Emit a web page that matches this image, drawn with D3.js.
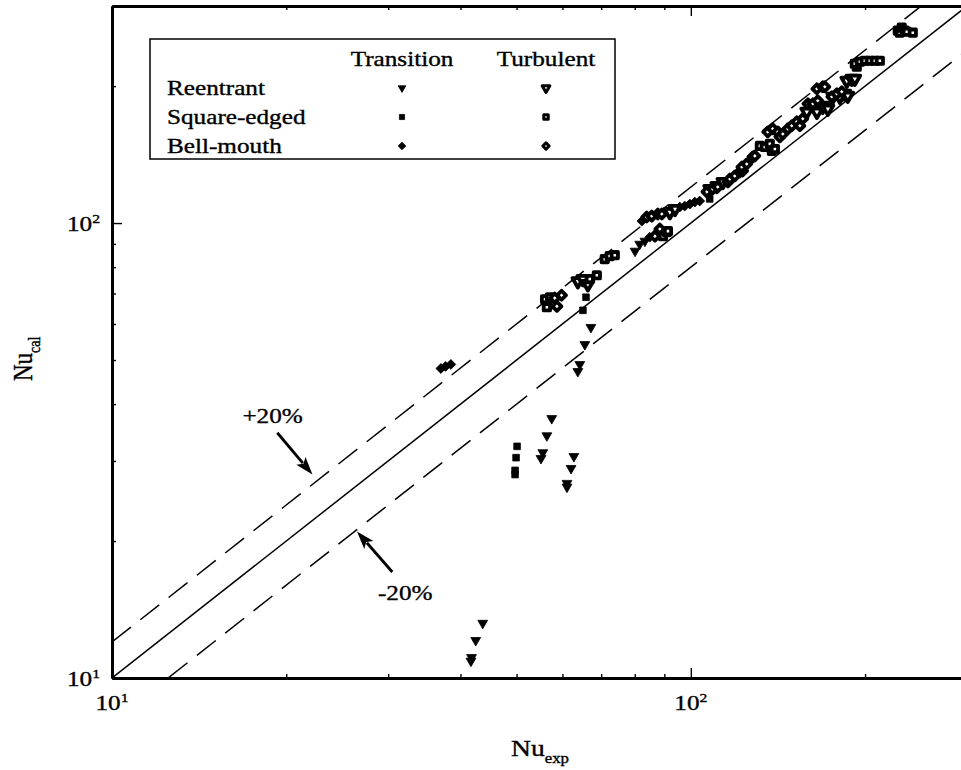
<!DOCTYPE html>
<html>
<head>
<meta charset="utf-8">
<script src="https://cdn.jsdelivr.net/npm/d3@7"></script>
<style>
  body { margin: 0; background: #fff; }
  svg { display: block; }
  text { font-family: "Liberation Serif", "Times New Roman", serif; fill: #000; stroke: #000; stroke-width: 0.35px; }
</style>
</head>
<body>
<svg id="chart" width="961" height="770"></svg>
<script>
// ---- Nusselt numbers: calculated vs experimental, by inlet type and flow regime ----
const reentrantTransX = [41.7, 41.8, 42.5, 43.7, 55.1, 55.5, 56.4, 57.5, 61.1, 61.1, 62.1, 62.8, 63.8, 64.3, 65.6, 67.2, 80.1, 81.6, 83.3];
const reentrantTransY = [10.9, 11.1, 12.1, 13.2, 30.4, 31.3, 34.1, 37.2, 26.3, 26.8, 28.9, 30.7, 47.2, 48.9, 54.1, 59.0, 86.8, 89.9, 91.3];

const squareTransX = [49.7, 49.7, 49.9, 50.1, 65.1, 65.9, 107.8];
const squareTransY = [28.0, 28.6, 30.5, 32.3, 64.3, 68.7, 113.0];

const bellTransX = [37.0, 37.7, 38.5, 84.9, 82.3, 95.7, 97.6, 99.6, 101.6, 103.6];
const bellTransY = [47.9, 48.4, 48.9, 93.1, 101.0, 108.4, 109.0, 110.1, 111.2, 111.8];

const reentrantTurbX = [63.8, 65.1, 66.4, 92.0, 93.9, 107.8, 110.9, 113.6, 158.6, 165.1, 169.0, 171.8, 172.5, 175.9, 180.9, 184.5, 186.7, 186.0, 189.7, 192.0];
const reentrantTurbY = [74.5, 75.3, 73.4, 105.7, 107.4, 118.8, 120.6, 123.1, 175.6, 175.6, 180.1, 181.0, 178.3, 189.5, 189.5, 192.4, 190.5, 205.5, 207.6, 207.6];

const squareTurbX = [56.0, 56.4, 57.1, 58.0, 66.9, 68.8, 71.0, 72.4, 73.9, 89.5, 90.9, 91.3, 131.6, 134.2, 136.9, 138.0, 139.7, 193.5, 192.0, 195.9, 199.8, 203.8, 207.9, 212.1, 227.8, 229.6, 231.4, 234.2, 236.1, 241.8];
const squareTurbY = [68.0, 65.3, 68.7, 66.3, 75.3, 76.8, 83.3, 84.6, 85.0, 93.6, 95.5, 96.0, 147.8, 147.0, 149.3, 144.1, 145.5, 220.6, 224.0, 226.2, 227.4, 227.4, 227.4, 227.4, 264.8, 262.1, 268.9, 264.8, 263.4, 262.1];

const bellTurbX = [58.2, 58.7, 59.8, 83.9, 85.6, 86.7, 87.7, 88.4, 89.1, 106.6, 109.1, 111.3, 115.9, 116.8, 119.1, 121.5, 122.9, 122.5, 124.9, 128.0, 129.0, 135.8, 138.5, 141.3, 142.5, 144.2, 147.1, 149.4, 152.4, 154.3, 156.1, 159.3, 162.5, 165.7, 165.1, 169.0, 170.4, 175.2, 178.7, 182.3];
const bellTurbY = [68.4, 65.6, 69.4, 103.1, 103.6, 93.6, 104.7, 97.0, 104.7, 117.1, 118.8, 120.0, 123.1, 125.0, 126.9, 129.5, 130.2, 132.8, 134.9, 139.8, 140.5, 158.6, 161.1, 158.6, 154.7, 157.0, 161.1, 163.6, 166.9, 163.6, 169.5, 182.9, 182.9, 185.7, 197.3, 199.3, 199.3, 189.5, 192.4, 194.4];

// axis ticks
const xMajor = [10, 100];
const yMajor = [10, 100];
const tickExponents = ["1", "2"];
const xMinor = [20, 30, 40, 50, 60, 70, 80, 90, 200];
const yMinor = [20, 30, 40, 50, 60, 70, 80, 90, 200];

// legend text
const legendRows = ["Reentrant", "Square-edged", "Bell-mouth"];
const legendCols = ["Transition", "Turbulent"];

// deviation band: +20% / -20%
const bandFactors = [1.2, 0.8];
const bandLabels = ["+20%", "-20%"];

// ---------------------------------------------------------------
const svg = d3.select("#chart");
const STRETCH = 1.2;   // the printed type is slightly wide
const FONT = 21;

const x = d3.scaleLog().domain([10, 300]).range([112, 967]);
const y = d3.scaleLog().domain([10, 300]).range([678, 6]);
const [x0, x1] = x.range();
const [y0, y1] = y.range();

svg.append("defs").append("clipPath").attr("id", "plotclip")
  .append("rect").attr("x", x0).attr("y", y1).attr("width", x1 - x0).attr("height", y0 - y1);

function styleAxis(g, width) {
  g.select(".domain").attr("stroke", "#000").attr("stroke-width", width);
  g.selectAll(".tick line").attr("stroke", "#000").attr("stroke-width", 1.4);
  g.selectAll(".tick text").remove();
}

// bottom axis
svg.append("g").attr("transform", `translate(0,${y0})`)
  .call(d3.axisBottom(x).tickValues(xMajor).tickSize(-10).tickSizeOuter(0))
  .call(g => styleAxis(g, 2.8));
svg.append("g").attr("transform", `translate(0,${y0})`)
  .call(d3.axisBottom(x).tickValues(xMinor).tickSize(-4).tickSizeOuter(0))
  .call(g => styleAxis(g, 2.8));
// top axis
svg.append("g").attr("transform", `translate(0,${y1})`)
  .call(d3.axisTop(x).tickValues(xMajor).tickSize(-10).tickSizeOuter(0))
  .call(g => styleAxis(g, 2.8));
svg.append("g").attr("transform", `translate(0,${y1})`)
  .call(d3.axisTop(x).tickValues(xMinor).tickSize(-4).tickSizeOuter(0))
  .call(g => styleAxis(g, 2.8));
// left axis
svg.append("g").attr("transform", `translate(${x0},0)`)
  .call(d3.axisLeft(y).tickValues(yMajor).tickSize(-10).tickSizeOuter(0))
  .call(g => styleAxis(g, 2.8));
svg.append("g").attr("transform", `translate(${x0},0)`)
  .call(d3.axisLeft(y).tickValues(yMinor).tickSize(-4).tickSizeOuter(0))
  .call(g => styleAxis(g, 2.8));

// power-of-ten tick labels
function powerLabel(px, py, anchor, exp) {
  const t = svg.append("text")
    .attr("transform", `translate(${px},${py}) scale(${STRETCH},1)`)
    .attr("text-anchor", anchor)
    .attr("font-size", FONT);
  t.append("tspan").text("10");
  t.append("tspan").attr("font-size", 13).attr("dy", -8).text(exp);
}
xMajor.forEach((v, i) => powerLabel(x(v), y0 + 32, "middle", tickExponents[i]));
yMajor.forEach((v, i) => powerLabel(x0 - 12, y(v) + 8, "end", tickExponents[i]));

// axis titles
const xt = svg.append("text")
  .attr("transform", `translate(511,756) scale(${STRETCH},1)`)
  .attr("font-size", 23);
xt.append("tspan").text("Nu");
xt.append("tspan").attr("font-size", 14).attr("dy", 7).text("exp");

const yt = svg.append("text")
  .attr("transform", `translate(32,381) scale(${STRETCH},1) rotate(-90)`)
  .attr("font-size", 23);
yt.append("tspan").text("Nu");
yt.append("tspan").attr("font-size", 14).attr("dy", 7).text("cal");

// reference lines
const plot = svg.append("g").attr("clip-path", "url(#plotclip)");
const lineDomain = [10, 300];
const diag = d3.line().x(d => x(d[0])).y(d => y(d[1]));
plot.append("path")
  .attr("d", diag(lineDomain.map(v => [v, v])))
  .attr("fill", "none").attr("stroke", "#000").attr("stroke-width", 1.5);
bandFactors.forEach(f => {
  plot.append("path")
    .attr("d", diag(lineDomain.map(v => [v, v * f])))
    .attr("fill", "none").attr("stroke", "#000").attr("stroke-width", 1.5)
    .attr("stroke-dasharray", "24,12");
});

// markers: filled for transition, heavy outline for turbulent
const triDown = d3.symbol().type(d3.symbolTriangle);
const sq = d3.symbol().type(d3.symbolSquare);

const series = [
  { xs: reentrantTransX, ys: reentrantTransY, sym: triDown, size: 42, rot: 180, open: false },
  { xs: squareTransX, ys: squareTransY, sym: sq, size: 44, rot: 0, open: false },
  { xs: bellTransX, ys: bellTransY, sym: sq, size: 48, rot: 45, open: false },
  { xs: reentrantTurbX, ys: reentrantTurbY, sym: triDown, size: 52, rot: 180, open: true },
  { xs: squareTurbX, ys: squareTurbY, sym: sq, size: 40, rot: 0, open: true },
  { xs: bellTurbX, ys: bellTurbY, sym: sq, size: 40, rot: 45, open: true }
];

function drawMarker(g, s, px, py, sizeOverride, strokeOverride) {
  g.append("path")
    .attr("d", s.sym.size(sizeOverride || s.size)())
    .attr("transform", `translate(${px},${py}) rotate(${s.rot})`)
    .attr("fill", s.open ? "#fff" : "#000")
    .attr("stroke", "#000")
    .attr("stroke-width", strokeOverride || (s.open ? 3.8 : 0.8))
    .attr("stroke-linejoin", "round");
}

const pts = plot.append("g");
series.forEach(s => {
  s.xs.forEach((v, i) => drawMarker(pts, s, x(v), y(s.ys[i])));
});

// legend
const lg = svg.append("g");
lg.append("rect").attr("x", 150).attr("y", 39).attr("width", 465).attr("height", 120)
  .attr("fill", "#fff").attr("stroke", "#000").attr("stroke-width", 1.5);
const colX = [402, 546];
const rowBase = [95, 124, 153];
legendCols.forEach((c, j) => {
  lg.append("text")
    .attr("transform", `translate(${colX[j]},66) scale(${STRETCH},1)`)
    .attr("text-anchor", "middle").attr("font-size", FONT).text(c);
});
legendRows.forEach((r, i) => {
  lg.append("text")
    .attr("transform", `translate(167,${rowBase[i]}) scale(${STRETCH},1)`)
    .attr("font-size", FONT).text(r);
  drawMarker(lg, series[i], colX[0], rowBase[i] - 7, series[i].size * 0.6);
  drawMarker(lg, series[i + 3], colX[1], rowBase[i] - 7, series[i + 3].size * 0.5, 3);
});

// band annotations with arrows
const annotations = [
  { label: bandLabels[0], tx: 16.8, ty: 36.4, from: [19.3, 34.6], to: [22.2, 28.0] },
  { label: bandLabels[1], tx: 28.8, ty: 14.85, from: [30.5, 17.1], to: [26.5, 21.0] }
];
annotations.forEach(a => {
  svg.append("text")
    .attr("transform", `translate(${x(a.tx)},${y(a.ty)}) scale(${STRETCH},1)`)
    .attr("font-size", FONT).text(a.label);
  const fx = x(a.from[0]), fy = y(a.from[1]);
  const tx = x(a.to[0]), ty = y(a.to[1]);
  const ang = Math.atan2(ty - fy, tx - fx);
  const L = 18, W = 6;
  const bx = tx - L * Math.cos(ang), by = ty - L * Math.sin(ang);
  svg.append("line")
    .attr("x1", fx).attr("y1", fy).attr("x2", bx + 3 * Math.cos(ang)).attr("y2", by + 3 * Math.sin(ang))
    .attr("stroke", "#000").attr("stroke-width", 2.8);
  const nx = -Math.sin(ang), ny = Math.cos(ang);
  const notch = [tx - (L - 4) * Math.cos(ang), ty - (L - 4) * Math.sin(ang)];
  svg.append("path")
    .attr("d", `M${tx},${ty} L${bx + W * nx},${by + W * ny} L${notch[0]},${notch[1]} L${bx - W * nx},${by - W * ny} Z`)
    .attr("fill", "#000");
});
</script>
</body>
</html>
